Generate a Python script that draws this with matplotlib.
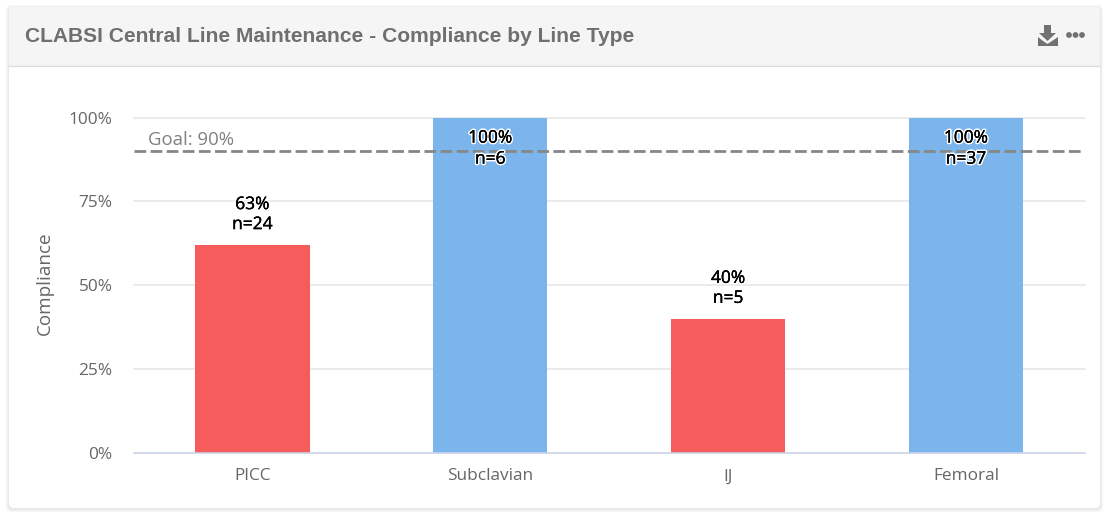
import matplotlib

matplotlib.use("Agg")
import matplotlib.pyplot as plt
import matplotlib.patheffects as pe
from matplotlib.patches import FancyBboxPatch, Polygon, Rectangle, Circle

categories = ["PICC", "Subclavian", "IJ", "Femoral"]
compliance = [62, 100, 40, 100]
pct_labels = ["63%", "100%", "40%", "100%"]
n_labels = ["n=24", "n=6", "n=5", "n=37"]
bar_colors = ["#F75C5C", "#7CB5EC", "#F75C5C", "#7CB5EC"]
y_ticks = [0, 25, 50, 75, 100]
goal = 90

W, H = 1114, 518
LABEL_FONT = "Open Sans"

fig = plt.figure(figsize=(W / 100, H / 100), dpi=100, facecolor="white")

# card and header, drawn in pixel coords
bg = fig.add_axes([0, 0, 1, 1], zorder=0)
bg.set_xlim(0, W)
bg.set_ylim(H, 0)
bg.axis("off")

for grow, col in [(3, "#f6f6f6"), (2, "#f0f0f0"), (1, "#e8e8e8")]:
    bg.add_patch(
        FancyBboxPatch(
            (9 - grow, 7 - grow + 1),
            1091 + 2 * grow,
            501 + 2 * grow,
            boxstyle="round,pad=0,rounding_size=6",
            fc=col,
            ec="none",
        )
    )
bg.add_patch(
    FancyBboxPatch(
        (9, 7), 1091, 501, boxstyle="round,pad=0,rounding_size=5", fc="white", ec="none"
    )
)
header = FancyBboxPatch(
    (9, 7), 1091, 80, boxstyle="round,pad=0,rounding_size=5", fc="#f5f5f5", ec="none"
)
bg.add_patch(header)
bg.add_patch(Rectangle((9, 66), 1091, 30, fc="white", ec="none"))
bg.plot([9, 1100], [66, 66], color="#dcdcdc", lw=0.9)

bg.text(
    25,
    36,
    "CLABSI Central Line Maintenance - Compliance by Line Type",
    fontsize=15.13,
    fontweight="bold",
    family="Liberation Sans",
    color="#6f6f6f",
    va="center",
    ha="left",
)

# download icon and the three dots
icon = "#717171"
bg.add_patch(
    Polygon(
        [(1044, 25), (1051, 25), (1051, 33), (1056, 33), (1047.5, 41), (1039, 33), (1044, 33)],
        fc=icon,
        ec="none",
    )
)
bg.add_patch(
    Polygon(
        [(1038, 37), (1043, 41), (1047.5, 44), (1052, 41), (1058, 37), (1058, 46), (1038, 46)],
        fc=icon,
        ec="none",
    )
)
for cx in [1069, 1075.5, 1082]:
    bg.add_patch(Circle((cx, 35), 2.9, fc=icon, ec="none"))

# chart area
left, right, top, bottom = 133.5, 1085, 117.6, 453.1
ax = fig.add_axes(
    [left / W, 1 - bottom / H, (right - left) / W, (bottom - top) / H], zorder=1
)
ax.patch.set_alpha(0)

x = list(range(len(categories)))
ax.bar(x, compliance, width=0.48, color=bar_colors, zorder=2, clip_on=False)

ax.set_xlim(-0.5, 3.5)
ax.set_ylim(0, 100)
ax.set_xticks(x, categories)
ax.set_yticks(y_ticks, [f"{v}%" for v in y_ticks])
ax.tick_params(axis="both", length=0, labelcolor="#666666")
ax.tick_params(axis="x", pad=11, labelsize=12.4)
ax.tick_params(axis="y", pad=15, labelsize=12.4)
for lab in ax.get_xticklabels() + ax.get_yticklabels():
    lab.set_family(LABEL_FONT)

ax.grid(axis="y", color="#e6e6e6", lw=1.1, zorder=1, clip_on=False)
ax.set_axisbelow(True)
for side in ["top", "right", "left"]:
    ax.spines[side].set_visible(False)
ax.spines["bottom"].set_color("#ccd6eb")
ax.spines["bottom"].set_linewidth(1.1)
ax.spines["bottom"].set_zorder(3)

ax.set_ylabel("Compliance", fontsize=13.6, color="#666666", family=LABEL_FONT)
ax.yaxis.set_label_coords(-80 / (right - left), 0.506)

# goal line
ax.axhline(goal, color="#868686", lw=2.0, dashes=(4.2, 1.6), zorder=4)
ax.annotate(
    f"Goal: {goal}%",
    xy=(0, goal),
    xycoords=("axes fraction", "data"),
    xytext=(15, 2),
    textcoords="offset pixels",
    fontsize=13.4,
    color="#808080",
    family=LABEL_FONT,
    va="bottom",
)

# value labels above bars, or inside the full ones
halo = [
    pe.withStroke(linewidth=2.4, foreground="white"),
    pe.Stroke(linewidth=0.12, foreground="black"),
    pe.Normal(),
]
for i, val in enumerate(compliance):
    if val >= 100:
        py_top, py_bot = 21, 42
    else:
        py_top, py_bot = -40, -20
    for offset, txt in [(py_top, pct_labels[i]), (py_bot, n_labels[i])]:
        ax.annotate(
            txt,
            xy=(i, val),
            xytext=(0, -offset),
            textcoords="offset pixels",
            ha="center",
            va="center",
            fontsize=12.5,
            color="black",
            family=LABEL_FONT,
            zorder=6,
            path_effects=halo,
        )

fig.savefig("out.png", dpi=100, facecolor="white")
